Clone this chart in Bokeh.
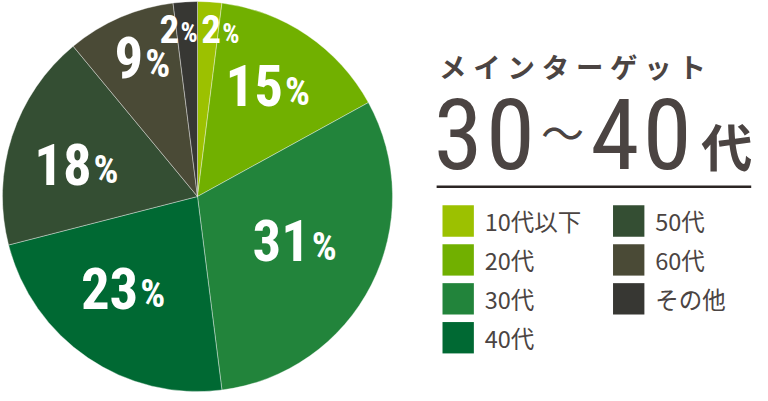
import math
from bokeh.plotting import figure
from bokeh.models import Range1d, ColumnDataSource
from bokeh.core.properties import value
from bokeh.embed import file_html
from bokeh.resources import INLINE

# ---------------- data ----------------
categories = ["10代以下", "20代", "30代", "40代", "50代", "60代", "その他"]
shares = [2, 15, 31, 23, 18, 9, 2]
colors = ["#9cc100", "#71b000", "#22843b", "#006933", "#344e33", "#4a4a36", "#373733"]
title_text = "メインターゲット"
headline_chars = ["3", "0", "～", "4", "0"]
headline_suffix = "代"

# ---------------- layout / style ----------------
TEXT_COLOR = "#4b4442"
label_shift_deg = [3.7, -2.4, -2.3, 5.4, -3.2, 1.0, -3.3]
label_r = [0.865, 0.67, 0.54, 0.61, 0.65, 0.77, 0.865]
label_scale = [0.69, 1, 1, 1, 1, 1, 0.69]

W, H = 760, 393
REF_W, REF_H = 768, 401
S = H / REF_H  # design drawn in reference pixel units, scaled to fit

def px(v):
    return f"{v * S:.1f}px"

p = figure(width=W, height=H, x_range=Range1d(0, W / S), y_range=Range1d(-H / S, 0),
           output_backend="svg", toolbar_location=None,
           x_axis_type=None, y_axis_type=None, min_border=0,
           outline_line_color=None, background_fill_color="white",
           border_fill_color="white")

# data y = -reference screen y
CX, CY, R = 201, 200, 199
total = sum(shares)
starts, ends, mids = [], [], []
cum = 0
for s in shares:
    starts.append(math.pi / 2 - 2 * math.pi * cum / total)
    ends.append(math.pi / 2 - 2 * math.pi * (cum + s) / total)
    mids.append(360.0 * (cum + s / 2) / total)
    cum += s

src = ColumnDataSource(dict(start=starts, end=ends, color=colors, cat=categories, share=shares))
p.wedge(x=CX, y=-CY, radius=R, start_angle="start", end_angle="end", direction="clock",
        fill_color="color", line_color="white", line_width=0.7, line_alpha=0.55, source=src)

# pie labels: big condensed digits + smaller percent sign (bottom-aligned)
DIGIT_SIZE, PCT_SIZE = 58, 40
DIGIT_W, PCT_W = 28, 22
CAP = 0.711
for i, s in enumerate(shares):
    k = label_scale[i]
    th = math.radians(mids[i] + label_shift_deg[i])
    lx = CX + label_r[i] * R * math.sin(th)
    ly = CY - label_r[i] * R * math.cos(th)
    n = len(str(s))
    junction = lx + k * (n * DIGIT_W - PCT_W) / 2.0
    pct_y = ly + k * CAP * (DIGIT_SIZE - PCT_SIZE) / 2.0
    p.text(x=[junction], y=[-ly], text=[str(s)], text_align="right",
           text_baseline="middle", text_font=value("Roboto Condensed"),
           text_font_style="bold", text_font_size=px(DIGIT_SIZE * k), text_color="white")
    p.text(x=[junction + 2 * k], y=[-pct_y], text=["%"], text_align="left",
           text_baseline="middle", text_font=value("Roboto Condensed"),
           text_font_style="bold", text_font_size=px(PCT_SIZE * k), text_color="white")

# title (letter-spaced)
TX0, TPITCH, TY = 461.5, 34.9, 67
p.text(x=[TX0 + i * TPITCH for i in range(len(title_text))], y=[-TY] * len(title_text),
       text=list(title_text), text_align="center", text_baseline="middle",
       text_font=value("Noto Sans CJK JP"), text_font_style="bold",
       text_font_size=px(28), text_color=TEXT_COLOR)

# headline 30～40代
HX0, HPITCH, HMID = 467, 53.3, 136
dig_x, dig_y, dig_t = [], [], []
for i, ch in enumerate(headline_chars):
    if ch == "～":
        p.text(x=[HX0 + i * HPITCH], y=[-133], text=[ch], text_align="center",
               text_baseline="middle", text_font=value("Noto Sans CJK JP"),
               text_font_size=px(44), text_color=TEXT_COLOR)
    else:
        dig_x.append(HX0 + i * HPITCH); dig_y.append(-HMID); dig_t.append(ch)
p.text(x=dig_x, y=dig_y, text=dig_t, text_align="center", text_baseline="middle",
       text_font=value("Roboto Condensed"), text_font_size=px(101),
       text_color=TEXT_COLOR)
p.text(x=[741], y=[-147], text=[headline_suffix], text_align="center",
       text_baseline="middle", text_font=value("Noto Sans CJK JP"),
       text_font_style="bold", text_font_size=px(52), text_color=TEXT_COLOR)

# separator rule
p.segment(x0=[445], y0=[-190], x1=[766], y1=[-190], line_width=2.5 * S, line_color="#2b2523")

# legend
LX0, LCOLW, LY0, LROWH, SQ = 467, 174, 225, 39.7, 32
lx, ly, tx = [], [], []
for i in range(len(categories)):
    col, row = i // 4, i % 4
    lx.append(LX0 + col * LCOLW)
    ly.append(-(LY0 + row * LROWH))
    tx.append(LX0 + col * LCOLW + 27)
p.rect(x=lx, y=ly, width=SQ, height=SQ, fill_color=colors, line_color=None)
p.text(x=tx, y=ly, text=categories, text_align="left", text_baseline="middle",
       text_font=value("Noto Sans CJK JP"), text_font_size=px(24), text_color=TEXT_COLOR)

open("out.html", "w").write(file_html(p, INLINE))
